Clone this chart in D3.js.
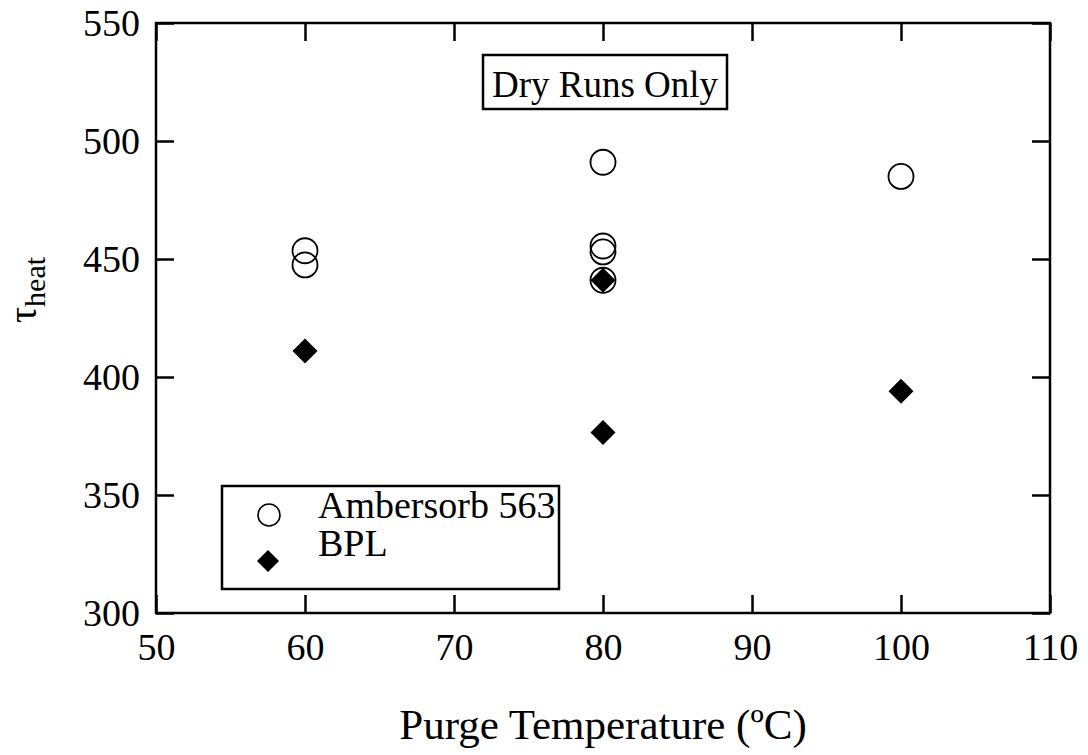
<!DOCTYPE html>
<html>
<head>
<meta charset="utf-8">
<script src="https://cdn.jsdelivr.net/npm/d3@7"></script>
<style>
  body { margin: 0; background: #fff; }
  text { font-family: "Liberation Serif", "Times New Roman", serif; fill: #000; }
</style>
</head>
<body>
<svg id="chart" width="1088" height="755"></svg>
<script>
// Data
const ambersorbTemp = [60, 60, 80, 80, 80, 80, 100];
const ambersorbTau  = [453.5, 447.5, 491, 455.5, 453, 441, 485];
const bplTemp = [60, 80, 80, 100];
const bplTau  = [411, 441, 376.5, 394];
const xTicks = [50, 60, 70, 80, 90, 100, 110];
const yTicks = [300, 350, 400, 450, 500, 550];

const svg = d3.select('#chart');
const margin = { top: 23, right: 38, bottom: 142, left: 156 };
const width = 1088 - margin.left - margin.right,
      height = 755 - margin.top - margin.bottom;
const g = svg.append('g').attr('transform', `translate(${margin.left},${margin.top})`);

const x = d3.scaleLinear().domain([50, 110]).range([0, width]);
const y = d3.scaleLinear().domain([300, 550]).range([height, 0]);

const tickLen = 18;

// Axes with inward ticks on all four sides
const axisStyle = sel => {
    sel.select('.domain').remove();
    sel.selectAll('line').attr('stroke', '#000').attr('stroke-width', 2.5);
};

g.append('g')
    .attr('transform', `translate(0,${height})`)
    .call(d3.axisBottom(x).tickValues(xTicks).tickSize(-tickLen).tickPadding(20))
    .call(axisStyle)
    .selectAll('text')
    .style('font-size', '38px');

g.append('g')
    .call(d3.axisTop(x).tickValues(xTicks).tickSize(-tickLen).tickFormat(''))
    .call(axisStyle);

g.append('g')
    .call(d3.axisLeft(y).tickValues(yTicks).tickSize(-tickLen).tickPadding(16))
    .call(axisStyle)
    .selectAll('text')
    .style('font-size', '38px');

g.append('g')
    .attr('transform', `translate(${width},0)`)
    .call(d3.axisRight(y).tickValues(yTicks).tickSize(-tickLen).tickFormat(''))
    .call(axisStyle);

svg.selectAll('.tick text').attr('fill', '#000').style('font-family', '"Liberation Serif", serif');

// Frame
g.append('rect')
    .attr('width', width).attr('height', height)
    .attr('fill', 'none').attr('stroke', '#000').attr('stroke-width', 2.5);

// Ambersorb points (open circles)
g.selectAll('.amb')
    .data(ambersorbTemp.map((t, i) => [t, ambersorbTau[i]]))
    .enter().append('circle')
    .attr('class', 'amb')
    .attr('cx', d => x(d[0]))
    .attr('cy', d => y(d[1]))
    .attr('r', 12.5)
    .attr('fill', 'none')
    .attr('stroke', '#000')
    .attr('stroke-width', 1.8);

// BPL points (filled diamonds)
const diamond = d3.symbol().type(d3.symbolDiamond2).size(400);
g.selectAll('.bpl')
    .data(bplTemp.map((t, i) => [t, bplTau[i]]))
    .enter().append('path')
    .attr('class', 'bpl')
    .attr('d', diamond)
    .attr('transform', d => `translate(${x(d[0])},${y(d[1])})`)
    .attr('fill', '#000');

// "Dry Runs Only" note
const note = svg.append('g');
note.append('rect')
    .attr('x', 483).attr('y', 55).attr('width', 244).attr('height', 54)
    .attr('fill', '#fff').attr('stroke', '#000').attr('stroke-width', 2.5);
note.append('text')
    .attr('x', 605).attr('y', 97)
    .attr('text-anchor', 'middle')
    .style('font-size', '37px')
    .text('Dry Runs Only');

// Legend
const legend = svg.append('g');
legend.append('rect')
    .attr('x', 222).attr('y', 486).attr('width', 337).attr('height', 103)
    .attr('fill', '#fff').attr('stroke', '#000').attr('stroke-width', 2.5);
legend.append('circle')
    .attr('cx', 269).attr('cy', 515).attr('r', 11)
    .attr('fill', 'none').attr('stroke', '#000').attr('stroke-width', 1.6);
legend.append('path')
    .attr('d', d3.symbol().type(d3.symbolDiamond2).size(310))
    .attr('transform', 'translate(268,561)')
    .attr('fill', '#000');
legend.append('text').attr('x', 318).attr('y', 518).style('font-size', '38px').text('Ambersorb 563');
legend.append('text').attr('x', 318).attr('y', 556).style('font-size', '38px').text('BPL');

// Axis titles
svg.append('text')
    .attr('x', margin.left + width / 2).attr('y', 739)
    .attr('text-anchor', 'middle')
    .style('font-size', '43px')
    .text('Purge Temperature (ºC)');

const yTitle = svg.append('text')
    .attr('transform', 'translate(36,290) rotate(-90)')
    .attr('text-anchor', 'middle')
    .style('font-size', '40px');
yTitle.append('tspan').text('τ');
yTitle.append('tspan').attr('dy', 9).style('font-size', '30px').text('heat');
</script>
</body>
</html>
